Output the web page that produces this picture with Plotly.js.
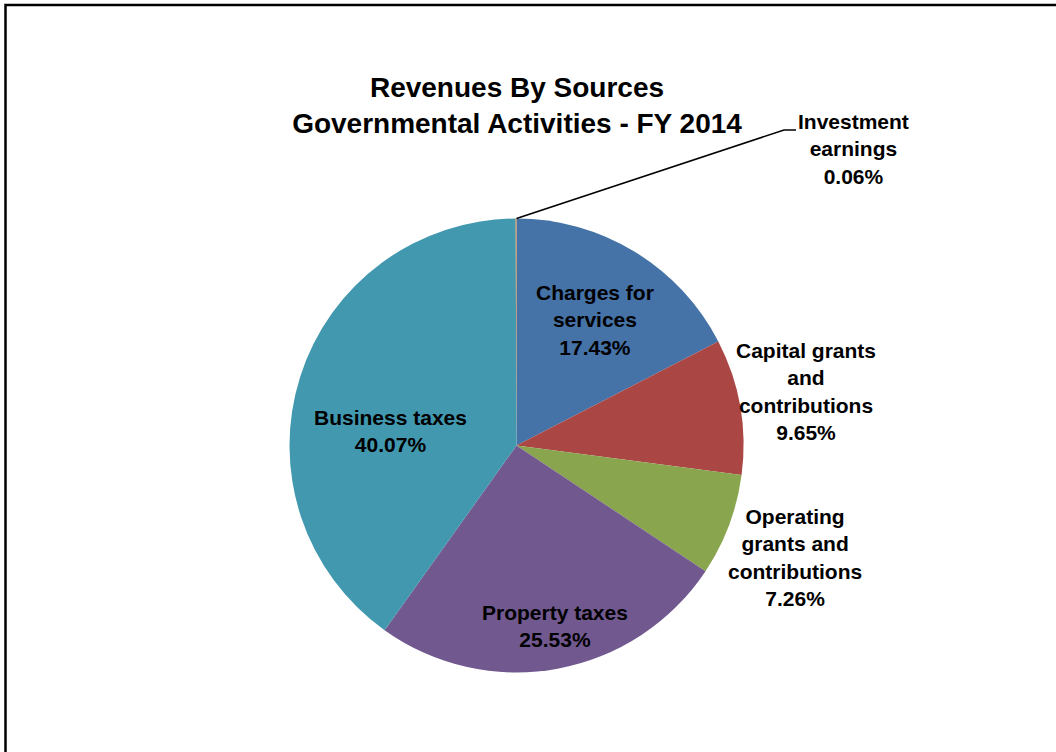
<!DOCTYPE html>
<html>
<head>
<meta charset="utf-8">
<script src="https://cdn.plot.ly/plotly-3.0.1.min.js"></script>
<style>
  html, body { margin: 0; padding: 0; background: #ffffff; }
  #chart { width: 1056px; height: 752px; }
</style>
</head>
<body>
<div id="chart"></div>
<script>
// ---- Data ----
const categories = [
  "Charges for services",
  "Capital grants and contributions",
  "Operating grants and contributions",
  "Property taxes",
  "Business taxes",
  "Investment earnings"
];
// Wrapped versions of the category names as shown in the data labels
const labelLines = [
  ["Charges for", "services"],
  ["Capital grants", "and", "contributions"],
  ["Operating", "grants and", "contributions"],
  ["Property taxes"],
  ["Business taxes"],
  ["Investment", "earnings"]
];
const percentValues = [17.43, 9.65, 7.26, 25.53, 40.07, 0.06];
const sliceColors = ["#4572A7", "#AA4643", "#89A54E", "#71588F", "#4198AF", "#DB843D"];
const chartTitle = ["Revenues By Sources", "Governmental Activities - FY 2014"];

// ---- Layout helpers (pixel -> paper, margins are zero) ----
const W = 1056, H = 752;
const px = x => x / W;
const py = y => 1 - y / H;

// Pie geometry
const cx = 516.5, cy = 445.5, r = 227;

// Label anchor points (pixel space) for each category's data label
const labelPos = [
  [595, 320],
  [806, 391],
  [795, 557],
  [555, 626],
  [390, 431],
  [853, 149]
];

const pieTrace = {
  type: "pie",
  labels: categories,
  values: percentValues,
  sort: false,
  direction: "clockwise",
  rotation: 0,
  marker: { colors: sliceColors, line: { width: 0 } },
  textinfo: "none",
  hoverinfo: "label+percent",
  automargin: false,
  domain: {
    x: [px(cx - r), px(cx + r)],
    y: [py(cy + r), py(cy - r)]
  }
};

const annotations = categories.map((c, i) => ({
  xref: "paper", yref: "paper",
  x: px(labelPos[i][0]), y: py(labelPos[i][1]),
  xanchor: "center", yanchor: "middle",
  showarrow: false,
  align: "center",
  text: "<b>" + labelLines[i].concat([percentValues[i].toFixed(2) + "%"]).join("<br>") + "</b>",
  font: { family: "Liberation Sans, Arial, sans-serif", size: 21, color: "#000000" }
}));

const layout = {
  width: W, height: H,
  margin: { l: 0, r: 0, t: 0, b: 0, pad: 0 },
  paper_bgcolor: "#ffffff",
  plot_bgcolor: "#ffffff",
  showlegend: false,
  title: {
    text: "<b>" + chartTitle.join("<br>") + "</b>",
    font: { family: "Liberation Sans, Arial, sans-serif", size: 28, color: "#000000" },
    x: px(517), xanchor: "center",
    y: py(97), yanchor: "middle",
    xref: "container", yref: "container"
  },
  annotations: annotations,
  shapes: [
    {
      type: "rect", xref: "paper", yref: "paper",
      x0: px(5.5), x1: 1.2, y0: -0.2, y1: py(5),
      line: { color: "#000000", width: 2.5 },
      fillcolor: "rgba(0,0,0,0)"
    },
    {
      type: "path", xref: "paper", yref: "paper",
      path: "M " + px(cx) + " " + py(cy - r) + " L " + px(784) + " " + py(130) + " L " + px(796) + " " + py(130),
      line: { color: "#000000", width: 1.5 }
    }
  ]
};

Plotly.newPlot("chart", [pieTrace], layout, { displayModeBar: false, staticPlot: true });
</script>
</body>
</html>
